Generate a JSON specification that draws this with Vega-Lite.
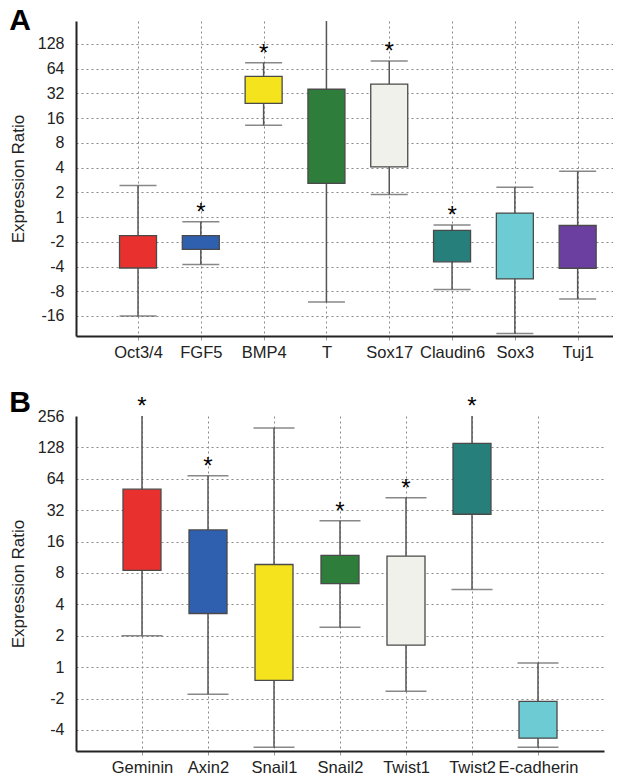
{
  "$schema": "https://vega.github.io/schema/vega-lite/v6.json",
  "background": "white",
  "padding": {"left": 9, "top": 6, "right": 0, "bottom": 0},
  "spacing": 27,
  "config": {
    "font": "Liberation Sans",
    "view": {"stroke": null},
    "axisY": {
      "labelFontSize": 16, "labelColor": "#222", "labelPadding": 12, "labelOverlap": false,
      "ticks": false, "domainColor": "#222", "domainWidth": 2,
      "gridColor": "#888", "gridDash": [2, 3], "gridWidth": 1,
      "titleFont": "Liberation Sans", "titleFontSize": 17, "titleFontWeight": "normal", "titleColor": "#222", "titlePadding": 10
    },
    "axisX": {
      "labelFontSize": 16.5, "labelColor": "#222", "labelPadding": 4, "labelAngle": 0, "labelOverlap": false,
      "tickSize": 4, "tickColor": "#999", "domainColor": "#222", "domainWidth": 2,
      "gridColor": "#888", "gridDash": [2, 3], "gridWidth": 1, "title": null
    }
  },
  "vconcat": [
    {
      "width": 537,
      "height": 315,
      "title": {"text": "A", "anchor": "start", "frame": "bounds", "fontSize": 30, "fontWeight": "bold", "color": "black", "baseline": "top", "offset": 0, "dy": 16},
      "data": {"values": [
        {"gene": "Oct3/4", "lo": -4.0, "q1": -2.06, "q3": -0.75, "hi": 1.28, "sig": false},
        {"gene": "FGF5", "lo": -1.92, "q1": -1.31, "q3": -0.75, "hi": -0.19, "sig": true},
        {"gene": "BMP4", "lo": 3.71, "q1": 4.6, "q3": 5.69, "hi": 6.24, "sig": true},
        {"gene": "T", "lo": -3.43, "q1": 1.36, "q3": 5.17, "hi": 7.93, "sig": false},
        {"gene": "Sox17", "lo": 0.91, "q1": 2.03, "q3": 5.38, "hi": 6.31, "sig": true},
        {"gene": "Claudin6", "lo": -2.93, "q1": -1.81, "q3": -0.54, "hi": -0.32, "sig": true},
        {"gene": "Sox3", "lo": -4.71, "q1": -2.5, "q3": 0.16, "hi": 1.21, "sig": false},
        {"gene": "Tuj1", "lo": -3.31, "q1": -2.07, "q3": -0.34, "hi": 1.85, "sig": false}
      ]},
      "encoding": {
        "x": {"field": "gene", "type": "nominal", "sort": null,
              "scale": {"type": "point", "padding": 0.775, "align": 0.637},
              "axis": {"grid": true}},
        "y": {"field": "lo", "type": "quantitative",
              "scale": {"domain": [-4.81, 7.93], "nice": false, "zero": false},
              "axis": {"title": "Expression Ratio", "values": [-4, -3, -2, -1, 0, 1, 2, 3, 4, 5, 6, 7],
                       "labelExpr": "datum.value >= 0 ? format(pow(2, datum.value), 'd') : '-' + format(pow(2, -datum.value), 'd')"}}
      },
      "layer": [
        {"mark": {"type": "rule", "color": "#555", "strokeWidth": 1.5},
         "encoding": {"y2": {"field": "hi"}}},
        {"mark": {"type": "tick", "color": "#555", "size": 37, "thickness": 1.5}},
        {"transform": [{"filter": "datum.hi < 7.8"}],
         "mark": {"type": "tick", "color": "#555", "size": 37, "thickness": 1.5},
         "encoding": {"y": {"field": "hi", "type": "quantitative", "title": "Expression Ratio"}}},
        {"mark": {"type": "bar", "width": 37, "stroke": "#4a4a4a", "strokeWidth": 1.3},
         "encoding": {"y": {"field": "q1", "type": "quantitative", "title": "Expression Ratio"}, "y2": {"field": "q3"},
                      "color": {"field": "gene", "type": "nominal", "legend": null,
                                "scale": {"domain": ["Oct3/4", "FGF5", "BMP4", "T", "Sox17", "Claudin6", "Sox3", "Tuj1"],
                                          "range": ["#e8312f", "#2f5faf", "#f4e31d", "#2f7d3a", "#f1f1ec", "#277f7b", "#6dcbd4", "#6b3fa0"]}}}},
        {"transform": [{"filter": "datum.sig"}],
         "mark": {"type": "text", "text": "*", "fontSize": 24, "color": "black", "baseline": "alphabetic", "dy": -2},
         "encoding": {"y": {"field": "hi", "type": "quantitative", "title": "Expression Ratio"}}}
      ]
    },
    {
      "width": 528,
      "height": 335,
      "title": {"text": "B", "anchor": "start", "frame": "bounds", "fontSize": 30, "fontWeight": "bold", "color": "black", "baseline": "top", "offset": 0, "dy": 23},
      "data": {"values": [
        {"gene": "Geminin", "lo": 1.0, "q1": 3.08, "q3": 5.67, "hi": 8.0, "sig": true},
        {"gene": "Axin2", "lo": -0.86, "q1": 1.71, "q3": 4.37, "hi": 6.1, "sig": true},
        {"gene": "Snail1", "lo": -2.55, "q1": -0.42, "q3": 3.27, "hi": 7.62, "sig": false},
        {"gene": "Snail2", "lo": 1.27, "q1": 2.66, "q3": 3.56, "hi": 4.66, "sig": true},
        {"gene": "Twist1", "lo": -0.77, "q1": 0.7, "q3": 3.54, "hi": 5.4, "sig": true},
        {"gene": "Twist2", "lo": 2.47, "q1": 4.87, "q3": 7.13, "hi": 8.0, "sig": true},
        {"gene": "E-cadherin", "lo": -2.55, "q1": -2.26, "q3": -1.09, "hi": 0.13, "sig": false}
      ]},
      "encoding": {
        "x": {"field": "gene", "type": "nominal", "sort": null,
              "scale": {"type": "point", "padding": 1},
              "axis": {"grid": true}},
        "y": {"field": "lo", "type": "quantitative",
              "scale": {"domain": [-2.67, 8], "nice": false, "zero": false},
              "axis": {"title": "Expression Ratio", "values": [-2, -1, 0, 1, 2, 3, 4, 5, 6, 7, 8],
                       "gridOpacity": {"condition": {"test": "datum.value > 7.5", "value": 0}, "value": 1},
                       "labelExpr": "datum.value >= 0 ? format(pow(2, datum.value), 'd') : '-' + format(pow(2, -datum.value), 'd')"}}
      },
      "layer": [
        {"mark": {"type": "rule", "color": "#555", "strokeWidth": 1.5},
         "encoding": {"y2": {"field": "hi"}}},
        {"mark": {"type": "tick", "color": "#555", "size": 41, "thickness": 1.5}},
        {"transform": [{"filter": "datum.hi < 7.8"}],
         "mark": {"type": "tick", "color": "#555", "size": 41, "thickness": 1.5},
         "encoding": {"y": {"field": "hi", "type": "quantitative", "title": "Expression Ratio"}}},
        {"mark": {"type": "bar", "width": 38, "stroke": "#4a4a4a", "strokeWidth": 1.3},
         "encoding": {"y": {"field": "q1", "type": "quantitative", "title": "Expression Ratio"}, "y2": {"field": "q3"},
                      "color": {"field": "gene", "type": "nominal", "legend": null,
                                "scale": {"domain": ["Geminin", "Axin2", "Snail1", "Snail2", "Twist1", "Twist2", "E-cadherin"],
                                          "range": ["#e8312f", "#2f5faf", "#f4e31d", "#2f7d3a", "#f1f1ec", "#277f7b", "#6dcbd4"]}}}},
        {"transform": [{"filter": "datum.sig"}],
         "mark": {"type": "text", "text": "*", "fontSize": 24, "color": "black", "baseline": "alphabetic", "dy": -2},
         "encoding": {"y": {"field": "hi", "type": "quantitative", "title": "Expression Ratio"}}}
      ]
    }
  ]
}
